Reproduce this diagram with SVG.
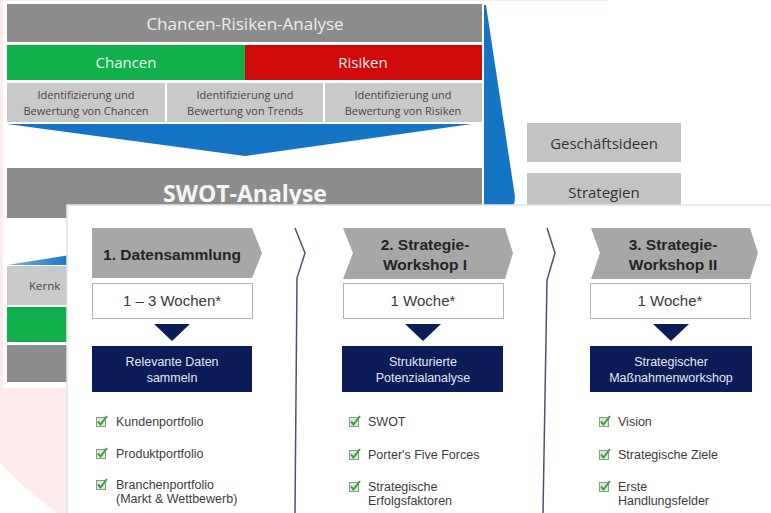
<svg xmlns="http://www.w3.org/2000/svg" width="771" height="513" viewBox="0 0 771 513">
  <defs>
    <style>
      .slide { font-family: "Open Sans", "Noto Sans", sans-serif; }
      .panel { font-family: "Liberation Sans", Arial, sans-serif; }
      .hdr { fill: #8c8c8c; }
      .cell { fill: #c9c9c9; }
      .cellTxt { font-size: 11px; fill: #474747; text-anchor: middle; }
      .sideBox { fill: #c3c3c3; }
      .sideTxt { font-size: 15px; fill: #333333; text-anchor: middle; }
      .step { fill: #a7a7a7; }
      .stepTxt { font-size: 15.5px; font-weight: bold; fill: #242424; text-anchor: middle; }
      .dur { fill: #ffffff; stroke: #b5b5b5; stroke-width: 1; }
      .durTxt { font-size: 15px; fill: #3a3a3a; text-anchor: middle; }
      .navy { fill: #0b1c56; }
      .navyTxt { font-size: 12.5px; fill: #e4e8f4; text-anchor: middle; }
      .item { font-size: 12.5px; fill: #3c3c3c; }
      .sep { fill: none; stroke: #4a5270; stroke-width: 1.5; }
    </style>
    <symbol id="chk" viewBox="0 0 12 12">
      <rect x="0.5" y="2.5" width="9" height="9" fill="#dfe8dc" stroke="#8c9a8a" stroke-width="1"/>
      <path d="M2 6.5 L4.5 9.5 L11 1" fill="none" stroke="#3e9e3e" stroke-width="2"/>
    </symbol>
    <linearGradient id="sliver" x1="0" y1="0" x2="1" y2="0">
      <stop offset="0" stop-color="#7fb3e0"/>
      <stop offset="1" stop-color="#1674c4"/>
    </linearGradient>
  </defs>

  <!-- page background with soft watermark disc -->
  <rect width="771" height="513" fill="#ffffff"/>
  <circle cx="280" cy="200" r="384" fill="#fdeaea"/>

  <!-- background slide: Chancen-Risiken-Analyse -> SWOT -->
  <g id="slide" class="slide">
    <rect x="3" y="1" width="686" height="387" fill="#ffffff"/>

    <g id="header">
      <rect class="hdr" x="7" y="4" width="475" height="38"/>
      <text x="245" y="30" font-size="17" fill="#ececec" text-anchor="middle">Chancen-Risiken-Analyse</text>
    </g>

    <g id="chancen">
      <rect x="7" y="45" width="238" height="35" fill="#12b04c"/>
      <text x="126" y="68" font-size="15" fill="#eaf7ee" text-anchor="middle">Chancen</text>
    </g>
    <g id="risiken">
      <rect x="245" y="45" width="237" height="35" fill="#d00a0a"/>
      <text x="363" y="68" font-size="15" fill="#fbeaea" text-anchor="middle">Risiken</text>
    </g>

    <g id="cell-chancen">
      <rect class="cell" x="7" y="83" width="158" height="39"/>
      <text class="cellTxt" x="86" y="99">Identifizierung und</text>
      <text class="cellTxt" x="86" y="115">Bewertung von Chancen</text>
    </g>
    <g id="cell-trends">
      <rect class="cell" x="167" y="83" width="156" height="39"/>
      <text class="cellTxt" x="245" y="99">Identifizierung und</text>
      <text class="cellTxt" x="245" y="115">Bewertung von Trends</text>
    </g>
    <g id="cell-risiken">
      <rect class="cell" x="325" y="83" width="157" height="39"/>
      <text class="cellTxt" x="403" y="99">Identifizierung und</text>
      <text class="cellTxt" x="403" y="115">Bewertung von Risiken</text>
    </g>

    <!-- funnel into SWOT -->
    <path d="M7 124 L472 124 L245 156 Z" fill="#1674c4"/>

    <g id="swot">
      <rect class="hdr" x="7" y="168" width="475" height="50"/>
      <text x="245" y="202" font-size="23" font-weight="bold" fill="#f4f4f4" text-anchor="middle">SWOT-Analyse</text>
    </g>

    <!-- tall wedge on the right -->
    <path d="M484 5 L486 5 L514 190 Q517 205 510 210 L484 210 Z" fill="#1674c4"/>

    <g id="geschaeftsideen">
      <rect class="sideBox" x="527" y="123" width="154" height="39"/>
      <text class="sideTxt" x="604" y="149">Geschäftsideen</text>
    </g>
    <g id="strategien">
      <rect class="sideBox" x="527" y="173" width="154" height="36"/>
      <text class="sideTxt" x="604" y="198">Strategien</text>
    </g>

    <!-- lower slide rows, mostly covered by the process panel -->
    <path d="M7 265 L70 255 L70 265 Z" fill="url(#sliver)"/>
    <rect class="cell" x="7" y="266" width="63" height="39"/>
    <text x="29" y="290" font-size="11.5" fill="#474747">Kernk</text>
    <rect x="7" y="307" width="63" height="35" fill="#12b04c"/>
    <rect class="hdr" x="7" y="345" width="63" height="37"/>
  </g>

  <!-- process panel -->
  <rect x="67" y="205" width="710" height="312" fill="#ffffff" stroke="#e3e3e3" stroke-width="1.5"/>

  <g id="connectors">
    <path class="sep" d="M295 228 L305 253 L297 278 L295 513"/>
    <path class="sep" d="M547 228 L555 253 L547 280 L543 513"/>
  </g>

  <g id="step1" class="panel">
    <path class="step" d="M92 228 L252 228 L262 253 L252 278 L92 278 Z"/>
    <text class="stepTxt" x="172" y="260">1. Datensammlung</text>
    <rect class="dur" x="92.5" y="283.5" width="160" height="35"/>
    <text class="durTxt" x="172" y="306">1 – 3 Wochen*</text>
    <path class="navy" d="M154 324 L190 324 L172 341 Z"/>
    <rect class="navy" x="92" y="346" width="160" height="46"/>
    <text class="navyTxt" x="172" y="366">Relevante Daten</text>
    <text class="navyTxt" x="172" y="382">sammeln</text>
    <use href="#chk" x="96" y="415" width="12" height="12"/>
    <text class="item" x="116" y="426">Kundenportfolio</text>
    <use href="#chk" x="96" y="447" width="12" height="12"/>
    <text class="item" x="116" y="458">Produktportfolio</text>
    <use href="#chk" x="96" y="478" width="12" height="12"/>
    <text class="item" x="116" y="489">Branchenportfolio</text>
    <text class="item" x="116" y="503">(Markt &amp; Wettbewerb)</text>
  </g>

  <g id="step2" class="panel">
    <path class="step" d="M343 228 L505 228 L513 253 L505 279 L343 279 L353 253 Z"/>
    <text class="stepTxt" x="425" y="250">2. Strategie-</text>
    <text class="stepTxt" x="425" y="270">Workshop I</text>
    <rect class="dur" x="343.5" y="283.5" width="160" height="35"/>
    <text class="durTxt" x="423" y="306">1 Woche*</text>
    <path class="navy" d="M405 324 L441 324 L423 341 Z"/>
    <rect class="navy" x="342" y="346" width="161" height="46"/>
    <text class="navyTxt" x="423" y="366">Strukturierte</text>
    <text class="navyTxt" x="423" y="382">Potenzialanalyse</text>
    <use href="#chk" x="349" y="415" width="12" height="12"/>
    <text class="item" x="368" y="426">SWOT</text>
    <use href="#chk" x="349" y="448" width="12" height="12"/>
    <text class="item" x="368" y="459">Porter's Five Forces</text>
    <use href="#chk" x="349" y="480" width="12" height="12"/>
    <text class="item" x="368" y="491">Strategische</text>
    <text class="item" x="368" y="505">Erfolgsfaktoren</text>
  </g>

  <g id="step3" class="panel">
    <path class="step" d="M591 228 L750 228 L758 253 L750 279 L591 279 L600 253 Z"/>
    <text class="stepTxt" x="673" y="250">3. Strategie-</text>
    <text class="stepTxt" x="673" y="270">Workshop II</text>
    <rect class="dur" x="590.5" y="283.5" width="160" height="35"/>
    <text class="durTxt" x="670" y="306">1 Woche*</text>
    <path class="navy" d="M653 324 L689 324 L671 341 Z"/>
    <rect class="navy" x="590" y="346" width="162" height="46"/>
    <text class="navyTxt" x="671" y="366">Strategischer</text>
    <text class="navyTxt" x="671" y="382">Maßnahmenworkshop</text>
    <use href="#chk" x="599" y="415" width="12" height="12"/>
    <text class="item" x="618" y="426">Vision</text>
    <use href="#chk" x="599" y="448" width="12" height="12"/>
    <text class="item" x="618" y="459">Strategische Ziele</text>
    <use href="#chk" x="599" y="480" width="12" height="12"/>
    <text class="item" x="618" y="491">Erste</text>
    <text class="item" x="618" y="505">Handlungsfelder</text>
  </g>
</svg>
